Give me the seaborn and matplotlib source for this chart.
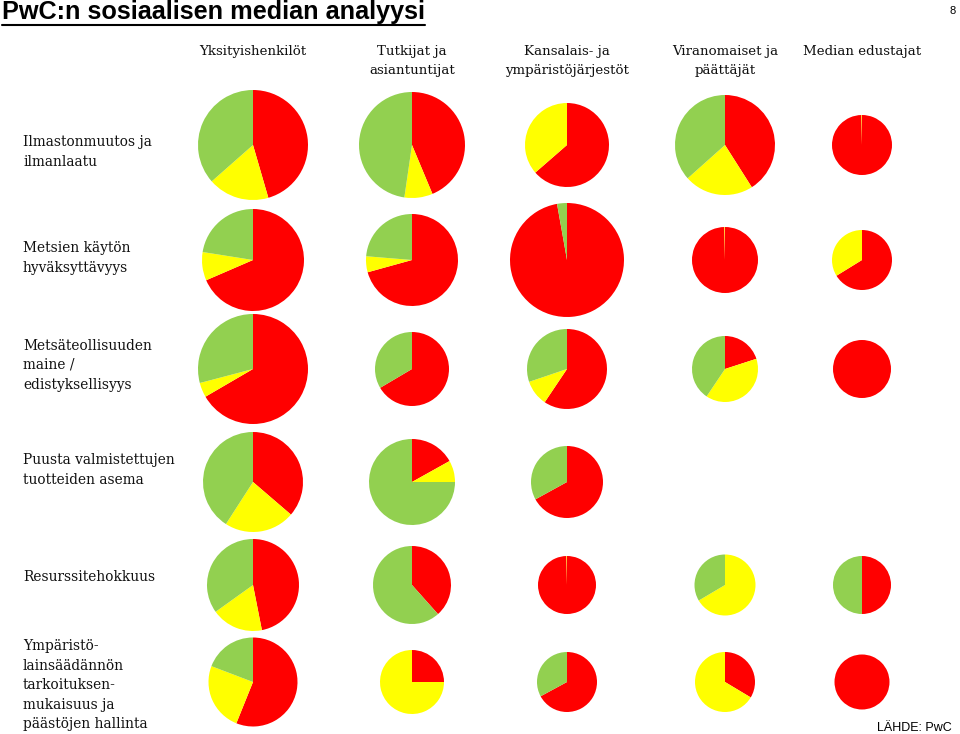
import matplotlib
matplotlib.use("Agg")
import matplotlib.pyplot as plt
from matplotlib.lines import Line2D
import seaborn as sns

# %% data

groups = ["Yksityishenkilöt", "Tutkijat ja\nasiantuntijat", "Kansalais- ja\nympäristöjärjestöt",
          "Viranomaiset ja\npäättäjät", "Median edustajat"]
topics = ["Ilmastonmuutos ja\nilmanlaatu", "Metsien käytön\nhyväksyttävyys",
          "Metsäteollisuuden\nmaine /\nedistyksellisyys", "Puusta valmistettujen\ntuotteiden asema",
          "Resurssitehokkuus",
          "Ympäristö-\nlainsäädännön\ntarkoituksen-\nmukaisuus ja\npäästöjen hallinta"]

# share (%) of negative / neutral / positive discussion, None = no pie
red = [[45.5, 43.7, 63.6, 41.0, 99.7],
       [68.5, 70.7, 97.2, 99.7, 66.2],
       [66.6, 66.5, 59.4, 20.0, 100],
       [36.3, 16.9, 67.0, None, None],
       [46.9, 38.4, 99.7, 0, 50],
       [56.1, 25.0, 67.1, 33.6, 100]]
yellow = [[18.0, 8.6, 36.4, 22.4, 0.3],
          [9.0, 5.6, 0, 0.3, 33.8],
          [4.3, 0, 10.4, 39.4, 0],
          [22.8, 8.1, 0, None, None],
          [18.2, 0, 0.3, 66.5, 0],
          [24.7, 75.0, 0, 66.4, 0]]
green = [[36.5, 47.7, 0, 36.6, 0],
         [22.5, 23.7, 2.8, 0, 0],
         [29.1, 33.5, 30.2, 40.6, 0],
         [40.9, 75.0, 33.0, None, None],
         [34.9, 61.6, 0, 33.5, 50],
         [19.2, 0, 32.9, 0, 0]]

# amount of discussion, shown as pie radius
volume = [[55, 53, 42, 50, 30],
          [51, 46, 57, 33, 30],
          [55, 37, 40, 33, 29],
          [50, 43, 36, None, None],
          [46, 39, 29, 30.5, 29],
          [44.5, 32, 30, 30, 27.5]]

# %% layout

W, H = 960, 734
col_x = [253, 412, 567, 725, 862]
row_y = [145, 260, 369, 482, 585, 682]       # pixels from top
label_y = [152, 258, 365, 470, 577, 685]
colors = ["#ff0000", "#ffff00", "#92d050"]
serif = "DejaVu Serif"
text_col = "#111111"

sns.set_style("white")
fig = plt.figure(figsize=(W / 100, H / 100), dpi=100)
ax = fig.add_axes([0, 0, 1, 1])

for i in range(len(topics)):
    for j in range(len(groups)):
        if volume[i][j] is None:
            continue
        vals = [red[i][j], yellow[i][j], green[i][j]]
        keep = [(v, c) for v, c in zip(vals, colors) if v > 0]
        ax.pie([v for v, c in keep], colors=[c for v, c in keep],
               center=(col_x[j], H - row_y[i]), radius=volume[i][j],
               startangle=90, counterclock=False, frame=True,
               wedgeprops=dict(linewidth=0))

ax.set_xlim(0, W)
ax.set_ylim(0, H)
ax.set_aspect("equal")
ax.axis("off")

# column headers
for j, g in enumerate(groups):
    ax.text(col_x[j], H - 45, g, ha="center", va="top", multialignment="center",
            fontsize=9.6, family=serif, color=text_col, linespacing=1.6)

# row labels
for i, t in enumerate(topics):
    ax.text(23, H - label_y[i], t, ha="left", va="center",
            fontsize=9.9, family=serif, color=text_col, linespacing=1.5)

# title, page number, source
title = fig.text(2 / W, 1 - 0 / H, "PwC:n sosiaalisen median analyysi", ha="left", va="top",
                 fontsize=18.2, weight="bold", family="Liberation Sans", color="black")
fig.text(1 - 4 / W, 1 - 6 / H, "8", ha="right", va="top", fontsize=8, family="Liberation Sans",
         color="black")
fig.text(1 - 8 / W, 1 - 728 / H, "LÄHDE: PwC", ha="right", va="center", fontsize=9,
         family="Liberation Sans", color="black")

fig.canvas.draw()
bb = title.get_window_extent()
fig.add_artist(Line2D([bb.x0 / W, bb.x1 / W], [(bb.y0 - 1) / H] * 2, color="black", lw=1.5))

fig.savefig("out.png", dpi=100)
